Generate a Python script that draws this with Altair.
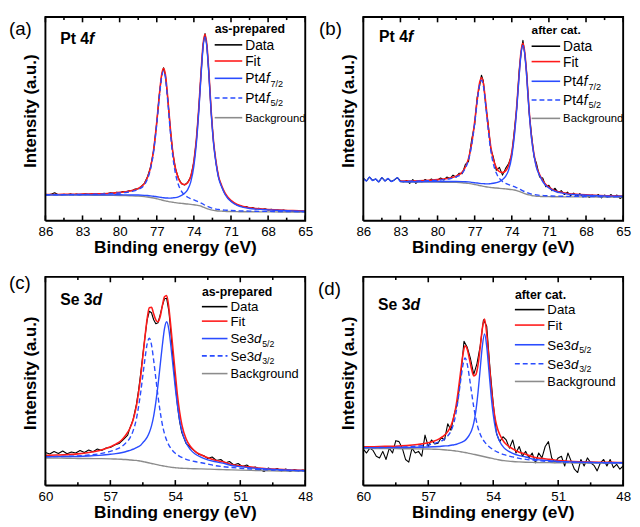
import altair as alt
import pandas as pd

FONT = "Liberation Sans"
BLACK = "#000000"
RED = "#ff1a1a"
BLUE = "#2a4cff"
GRAY = "#8c8c8c"

# ---------------- Pt 4f : shared energy grid of the fitted curves ----------------
pt_grid = [86, 85, 84, 83, 82, 81, 80, 79.5, 79, 78.5, 78, 77.75, 77.5, 77.25, 77,
           76.8, 76.6, 76.45, 76.3, 76.1, 75.9, 75.7, 75.5, 75.25, 75, 74.75, 74.5,
           74.25, 74, 73.8, 73.6, 73.4, 73.25, 73.1, 72.95, 72.8, 72.6, 72.4, 72.2,
           72, 71.75, 71.5, 71.25, 71, 70.5, 70, 69.5, 69, 68, 67, 66, 65]

# (a) Pt 4f as-prepared
a_bg = [26.5, 26.5, 26.5, 26.5, 26.4, 26.3, 26.2, 26.0, 25.8, 25.5, 25.0, 24.6, 24.1,
        23.5, 22.8, 22.2, 21.5, 21.0, 20.5, 20.0, 19.5, 19.1, 18.7, 18.3, 18.0, 17.6,
        17.3, 17.0, 16.6, 16.2, 15.7, 15.0, 14.2, 13.4, 12.6, 12.0, 11.3, 10.8, 10.4,
        10.1, 9.9, 9.7, 9.6, 9.5, 9.4, 9.3, 9.3, 9.2, 9.2, 9.1, 9.1, 9.0]
a_c1 = [26.7, 26.8, 26.8, 26.9, 26.8, 26.8, 26.9, 26.8, 26.7, 26.6, 26.3, 26.1, 25.8,
        25.4, 24.9, 24.5, 24.1, 23.8, 23.6, 23.5, 23.4, 23.7, 24.0, 24.8, 26.2, 28.4,
        32.3, 40.2, 56.5, 79.7, 113.7, 154.5, 180.4, 190.4, 179.6, 154.0, 111.3, 78.8,
        58.4, 44.1, 34.9, 27.7, 23.1, 20.0, 15.9, 13.9, 12.7, 12.0, 11.2, 10.6, 10.2, 9.8]
a_c2 = [26.9, 26.9, 27.1, 27.2, 27.4, 27.8, 28.7, 29.3, 30.4, 32.4, 37.2, 43.3, 53.6,
        71.8, 100.0, 126.9, 149.1, 155.0, 148.1, 122.0, 91.5, 66.1, 49.7, 37.3, 30.5,
        26.6, 24.3, 22.8, 21.6, 20.5, 19.4, 18.3, 17.2, 16.1, 15.1, 14.3, 13.4, 12.7,
        12.1, 11.7, 11.3, 11.0, 10.8, 10.6, 10.3, 10.1, 10.0, 9.8, 9.7, 9.5, 9.4, 9.2]
a_fit = [27.1, 27.2, 27.4, 27.6, 27.8, 28.3, 29.4, 30.1, 31.3, 33.5, 38.5, 44.8, 55.3,
         73.7, 102.1, 129.2, 151.7, 157.8, 151.2, 125.5, 95.4, 70.7, 55.0, 43.8, 38.7,
         37.4, 39.3, 46.0, 61.5, 84.0, 117.4, 157.8, 183.4, 193.1, 182.1, 156.3, 113.4,
         80.7, 60.1, 45.7, 36.3, 29.0, 24.3, 21.1, 16.8, 14.7, 13.4, 12.6, 11.7, 11.0,
         10.5, 10.0]

pt_data_x = [86, 85.75, 85.5, 85.25, 85, 84.75, 84.5, 84.25, 84, 83.75, 83.5, 83.25,
             83, 82.75, 82.5, 82.25, 82, 81.75, 81.5, 81.25, 81, 80.75, 80.5, 80.25,
             80, 79.75, 79.5, 79.25, 79, 78.75, 78.5, 78.25,
             78, 77.75, 77.5, 77.25, 77, 76.8, 76.6, 76.45, 76.3, 76.1, 75.9, 75.7,
             75.5, 75.25, 75, 74.75, 74.5, 74.25, 74, 73.8, 73.6, 73.4, 73.25, 73.1,
             72.95, 72.8, 72.6, 72.4, 72.2, 72, 71.75, 71.5, 71.25, 71,
             70.75, 70.5, 70.25, 70, 69.75, 69.5, 69.25, 69, 68.75, 68.5, 68.25, 68,
             67.75, 67.5, 67.25, 67, 66.75, 66.5, 66.25, 66, 65.75, 65.5, 65.25, 65]
a_data = [27.5, 26.8, 27.6, 29.0, 27.2, 26.6, 27.4, 26.9, 27.8, 27.0, 27.6, 26.8, 27.5,
          28.0, 27.2, 27.9, 27.3, 28.2, 27.6, 28.5, 28.0, 29.0, 28.4, 29.4, 29.0, 30.2,
          29.8, 31.0, 31.2, 32.8, 33.0, 35.5,
          38.8, 45.5, 55.8, 73.0, 101.5, 129.8, 151, 158.5, 150.5, 125, 94.8, 70.2, 54.5,
          44.3, 38.2, 37.0, 39.8, 45.5, 61, 83.2, 116.5, 157, 183, 193.8, 181.5, 155.5,
          112.2, 79.5, 58.8, 44.6, 35.3, 28.2, 23.6, 20.4,
          18.2, 16.2, 15.6, 14.2, 14.8, 12.8, 13.6, 12.2, 13.0, 11.6, 12.4, 11.2, 11.8,
          10.6, 11.2, 10.4, 11.0, 9.8, 10.4, 9.6, 10.2, 9.2, 9.8, 9.0]

# (b) Pt 4f after catalysis (fit region 83 -> 65 eV)
b_grid = pt_grid[3:]
b_bg = [40.0, 39.9, 39.9, 39.8, 39.7, 39.6, 39.5, 39.2, 38.9, 38.5, 38.0, 37.4, 36.9,
        36.3, 35.9, 35.5, 35.0, 34.6, 34.3, 34.0, 33.7, 33.4, 33.1, 32.8, 32.5, 32.1,
        31.7, 31.1, 30.3, 29.5, 28.7, 28.0, 27.3, 26.6, 26.0, 25.6, 25.3, 25.1, 24.9,
        24.8, 24.8, 24.7, 24.7, 24.6, 24.6, 24.6, 24.5, 24.5, 24.5]
b_c1_pre_x = [86, 85.75, 85.5, 85.25, 85, 84.75, 84.5, 84.25, 84, 83.75, 83.5, 83.25]
b_c1_pre = [44, 41, 45, 41.5, 43, 40, 44.5, 41, 43.5, 40.5, 42, 44.5]
b_c1 = [40.3, 40.2, 40.3, 40.4, 40.4, 40.4, 40.4, 40.3, 40.2, 40.0, 39.6, 39.2, 38.9,
        38.5, 38.3, 38.2, 38.0, 38.0, 38.3, 38.6, 39.3, 40.4, 42.4, 45.7, 52.4, 66.4,
        86.2, 115.3, 150.1, 172.3, 180.7, 171.5, 149.3, 112.5, 84.4, 66.8, 54.5, 46.6,
        40.4, 36.4, 33.8, 30.3, 28.7, 27.5, 27.0, 26.3, 25.8, 25.4, 25.2]
b_c2 = [40.6, 40.7, 41.1, 41.8, 42.4, 43.3, 45.1, 49.1, 54.1, 62.5, 77.3, 100.2, 122.0,
        140.0, 144.9, 139.2, 117.9, 93.1, 72.5, 59.2, 49.1, 43.6, 40.4, 38.5, 37.2, 36.2,
        35.2, 34.1, 33.0, 31.9, 30.9, 30.0, 29.2, 28.3, 27.5, 27.0, 26.6, 26.2, 26.0,
        25.8, 25.7, 25.4, 25.3, 25.1, 25.1, 25.0, 24.8, 24.7, 24.7]
b_fit = [40.9, 41.0, 41.5, 42.4, 43.1, 44.1, 46.0, 50.2, 55.4, 64.0, 78.9, 102.0, 124.0,
         142.2, 147.3, 141.9, 120.9, 96.5, 76.5, 63.8, 54.7, 50.6, 49.7, 51.4, 57.1, 70.5,
         89.7, 118.3, 152.8, 174.7, 182.9, 173.5, 151.2, 114.2, 85.9, 68.2, 55.8, 47.7,
         41.5, 37.4, 34.7, 31.0, 29.3, 28.0, 27.5, 26.7, 26.1, 25.6, 25.4]
b_data = [44, 41, 45, 41.5, 43, 40, 44.5, 41, 43.5, 40.5, 42, 44.5, 41, 40, 41.5, 38.5,
          42.5, 38.5, 41.5, 40, 42.5, 40.5, 43, 41, 42, 44, 42, 45, 43.5, 47, 45, 49,
          48.5, 58, 61, 83, 99, 127, 139, 150, 144, 118, 99, 74, 66, 52, 55, 47, 54, 59,
          68, 92, 116, 155, 173, 186, 172, 153, 112, 88, 66, 59, 45, 44, 35, 36.5,
          31, 33.5, 29, 31, 27, 29.5, 26, 28.5, 25, 28, 24.5, 27, 24, 26.5, 25, 27, 23.5,
          26.5, 24, 27, 24.5, 26.5, 23, 25]

# ---------------- Se 3d : shared energy grid of the fitted curves ----------------
se_grid = [60, 59.5, 59, 58.5, 58, 57.5, 57, 56.75, 56.5, 56.3, 56.1, 55.95, 55.8, 55.7,
           55.6, 55.5, 55.4, 55.3, 55.2, 55.1, 55.0, 54.9, 54.8, 54.7, 54.6, 54.5, 54.4,
           54.3, 54.2, 54.1, 54.0, 53.9, 53.8, 53.7, 53.5, 53.3, 53.1, 52.8, 52.5, 52.2,
           51.8, 51.4, 51, 50.5, 50, 49.5, 49, 48.5, 48]

# (c) Se 3d as-prepared
c_bg = [27.5, 27.4, 27.3, 27.1, 27.0, 26.9, 26.7, 26.5, 26.3, 26.0, 25.6, 25.3, 25.1,
        24.8, 24.4, 24.0, 23.5, 23.0, 22.5, 22.0, 21.6, 21.1, 20.7, 20.2, 19.8, 19.4,
        19.0, 18.6, 18.3, 18.0, 17.8, 17.6, 17.4, 17.3, 17.1, 16.9, 16.8, 16.6, 16.4,
        16.2, 15.9, 15.6, 15.4, 15.1, 14.9, 14.7, 14.5, 14.4, 14.3]
c_c1 = [28.8, 28.9, 29.0, 29.1, 29.5, 30.2, 31.3, 31.9, 32.8, 33.8, 35.2, 36.3, 37.9,
        39.0, 40.4, 42.9, 45.3, 48.4, 53.0, 59.7, 69.5, 83.5, 100.5, 120.3, 140.2, 157.2,
        164.0, 156.4, 138.7, 118.1, 97.6, 80.0, 65.3, 55.0, 42.5, 35.9, 31.8, 28.2, 25.7,
        24.0, 22.4, 20.0, 18.9, 17.7, 16.8, 16.1, 15.5, 15.2, 14.95]
c_c2 = [28.9, 29.0, 29.2, 29.7, 30.5, 31.8, 34.2, 36.0, 38.6, 42.3, 47.5, 54.7, 66.4,
        78.6, 93.2, 110.3, 127.3, 141.8, 147.5, 140.8, 125.4, 107.4, 89.5, 74.0, 61.1,
        51.9, 45.3, 40.5, 37.1, 34.3, 32.2, 30.5, 29.2, 28.1, 26.2, 25.0, 24.0, 22.8,
        21.5, 20.0, 18.9, 18.0, 17.3, 16.5, 15.9, 15.5, 15.1, 14.9, 14.7]
c_fit = [30.2, 30.5, 30.9, 31.7, 33.0, 35.1, 38.8, 41.4, 45.1, 50.1, 57.1, 65.7, 79.2,
         92.8, 109.2, 129.2, 149.1, 167.2, 178.0, 178.5, 172.0, 166.0, 164.0, 169.0,
         180.0, 189.0, 190.3, 178.3, 157.5, 134.4, 112.0, 90.0, 73.5, 61.0, 46.5, 39.0,
         34.5, 30.5, 27.7, 25.5, 23.8, 21.0, 19.8, 18.4, 17.3, 16.5, 15.9, 15.5, 15.2]
c_data_x = [60, 59.8, 59.6, 59.4, 59.2, 59, 58.8, 58.6, 58.4, 58.2, 58, 57.8, 57.6, 57.4,
            57.2, 57, 56.8, 56.6, 56.4, 56.2,
            56.1, 55.95, 55.8, 55.7, 55.6, 55.5, 55.4, 55.3, 55.2, 55.1, 55.0, 54.9,
            54.8, 54.7, 54.6, 54.5, 54.4, 54.3, 54.2, 54.1, 54.0, 53.9, 53.8, 53.7, 53.5,
            53.3, 53.1,
            52.9, 52.7, 52.5, 52.3, 52.1, 51.9, 51.7, 51.5, 51.3, 51.1, 50.9, 50.7, 50.5,
            50.3, 50.1, 49.9, 49.7, 49.5, 49.3, 49.1, 48.9, 48.7, 48.5, 48.3, 48.1, 48.0]
c_data = [33, 31.5, 34, 32, 34.5, 31.8, 33.5, 32.5, 35, 33, 35.5, 33.8, 36.5, 35, 37.5,
          38, 40.5, 42, 46, 50.5,
          57.5, 66, 81, 95, 112, 131, 149, 166, 174.5, 173, 166, 162, 163, 171, 180, 187,
          187.5, 175, 152, 126, 102, 80, 64, 53, 42, 38, 34.5,
          31, 30, 27, 28.5, 25, 26, 22.5, 24, 20.5, 22, 19, 20.5, 17.5, 18.5, 16, 14,
          17.5, 15, 17, 14.5, 16.5, 14, 16, 14.5, 15.5, 14]

# (d) Se 3d after catalysis
d_bg = [38.0, 38.0, 37.9, 37.8, 37.7, 37.6, 37.4, 37.2, 37.0, 36.7, 36.3, 36.0, 35.6,
        35.3, 35.0, 34.6, 34.2, 33.8, 33.4, 33.0, 32.5, 32.0, 31.5, 31.0, 30.5, 30.0,
        29.5, 29.0, 28.5, 28.0, 27.5, 27.0, 26.6, 26.2, 25.5, 25.0, 24.6, 24.2, 23.9,
        23.7, 23.5, 23.4, 23.3, 23.2, 23.1, 23.1, 23.0, 23.0, 23.0]
d_c1 = [38.8, 38.9, 38.9, 38.9, 39.0, 39.2, 39.5, 39.7, 40.0, 40.5, 40.7, 41.3, 41.8,
        42.3, 43.2, 43.9, 45.0, 46.3, 48.7, 52.0, 56.4, 63.9, 76.8, 95.9, 120.0, 143.4,
        155.5, 142.4, 118.0, 92.9, 72.8, 58.9, 50.5, 45.2, 38.6, 35.2, 32.9, 30.6, 29.2,
        27.2, 26.1, 25.5, 24.7, 24.2, 23.8, 23.6, 23.4, 23.35, 23.3]
d_c2 = [38.8, 38.9, 39.1, 39.2, 39.6, 40.4, 41.7, 42.9, 44.8, 46.8, 50.9, 56.0, 65.9,
        77.0, 91.7, 108.3, 123.4, 130.8, 124.4, 111.0, 95.5, 80.5, 68.5, 59.0, 52.5,
        48.0, 44.7, 42.0, 40.0, 38.2, 36.7, 35.4, 34.3, 33.3, 31.6, 30.3, 29.3, 27.8,
        26.8, 26.0, 25.2, 24.7, 24.3, 24.0, 23.7, 23.55, 23.4, 23.35, 23.3]
d_fit = [39.6, 39.8, 40.1, 40.3, 40.9, 42.0, 43.8, 45.4, 47.8, 50.6, 55.3, 61.3, 72.1,
         84.0, 99.9, 117.6, 134.2, 143.3, 139.7, 130.0, 119.4, 112.4, 113.8, 123.9,
         142.0, 161.4, 170.7, 155.4, 129.5, 103.1, 82.0, 67.3, 58.2, 52.3, 44.7, 40.5,
         37.6, 34.2, 32.1, 29.5, 27.8, 26.8, 25.7, 24.9, 24.4, 24.05, 23.8, 23.7, 23.6]
d_data_x = [60.0, 59.85, 59.7, 59.55, 59.4, 59.25, 59.1, 58.95, 58.8, 58.65, 58.5, 58.35,
            58.2, 58.05, 57.9, 57.75, 57.6, 57.45, 57.3, 57.15, 57.0, 56.85, 56.7, 56.55,
            56.4, 56.25, 56.1, 55.95, 55.8, 55.65, 55.5, 55.35, 55.2, 55.05, 54.9, 54.75,
            54.6, 54.45, 54.3, 54.15, 54.0, 53.85, 53.7, 53.55, 53.4, 53.25, 53.1, 52.95,
            52.8, 52.65, 52.5, 52.35, 52.2, 52.05, 51.9, 51.75, 51.6, 51.45, 51.3, 51.15,
            51.0, 50.85, 50.7, 50.55, 50.4, 50.25, 50.1, 49.95, 49.8, 49.65, 49.5, 49.35,
            49.2, 49.05, 48.9, 48.75, 48.6, 48.45, 48.3, 48.15, 48.0]
d_data = [37.3, 33.3, 38.3, 36, 30, 28.3, 35, 26.7, 38.3, 33.3, 46, 45, 38.3, 26.7, 24,
          38.3, 33.3, 35, 30, 51.7, 40, 46.7, 42.7, 43.3, 49.3, 46.7, 63.3, 56.7, 73.3,
          85, 112, 148, 141.7, 130, 114, 125, 143.3, 170, 163.3, 120, 84, 53.3, 45, 50,
          46.7, 38.3, 46.7, 33.3, 40, 30, 35, 28.3, 33.3, 23.3, 33.3, 28.3, 40, 45, 28.3,
          23.3, 28.3, 30, 20, 33.3, 25, 16.7, 13.3, 26.7, 20, 28.3, 23.3, 20.7, 15, 23.3,
          26.7, 20, 26.7, 18.3, 21.7, 16.7, 20]

pt_major = [86, 83, 80, 77, 74, 71, 68, 65]
pt_minor = [84.5, 81.5, 78.5, 75.5, 72.5, 69.5, 66.5]
se_major = [60, 57, 54, 51, 48]
se_minor = [58.5, 55.5, 52.5, 49.5]

W = 264
H_TOP = 207
H_BOT = 212


def one():
    return pd.DataFrame({"k": [0]})


def text(s, x, y, size, weight="normal", style="normal", color=BLACK, align="left"):
    return alt.Chart(one()).mark_text(
        text=s, font=FONT, fontSize=size, fontWeight=weight, fontStyle=style,
        align=align, baseline="alphabetic", color=color
    ).encode(x=alt.value(x), y=alt.value(y))


def seg(x1, x2, y1, y2, color=BLACK, dash=None, width=1.0):
    kw = dict(color=color, strokeWidth=width)
    if dash:
        kw["strokeDash"] = dash
    return alt.Chart(one()).mark_rule(**kw).encode(
        x=alt.value(x1), x2=alt.value(x2), y=alt.value(y1), y2=alt.value(y2))


def panel(H, xdom, ymax, major, minor, series, extra):
    xs = alt.Scale(domain=xdom, reverse=True, nice=False, zero=False)
    ys = alt.Scale(domain=[0, ymax], nice=False, zero=False)
    ax_x = alt.Axis(values=major, format="d", title=None,
                    ticks=False, tickSize=0, domain=False, grid=False,
                    labelFont=FONT, labelFontSize=13.5, labelColor=BLACK,
                    labelBaseline="alphabetic", labelPadding=15.5, labelFlush=False)
    ax_y = alt.Axis(title="Intensity (a.u.)", labels=False, ticks=False, tickSize=0,
                    domain=False, grid=False, titleFont=FONT, titleFontSize=17,
                    titleFontWeight="bold", titleColor=BLACK,
                    titleBaseline="alphabetic", titleX=-10, titleY=H * 0.46)
    X = lambda f: alt.X(f, scale=xs, axis=ax_x)
    Y = lambda f: alt.Y(f, scale=ys, axis=ax_y)
    layers = []
    for xv, yv, color, sw, dash, interp in series:
        df = pd.DataFrame({"x": xv, "y": yv})
        kw = dict(color=color, strokeWidth=sw, interpolate=interp, strokeJoin="round")
        if dash:
            kw["strokeDash"] = dash
        layers.append(alt.Chart(df).mark_line(**kw).encode(x=X("x:Q"), y=Y("y:Q")))
    # plot frame as a closed path through the domain corners
    lo, hi = xdom[0], xdom[1]
    frame_df = pd.DataFrame({"x": [hi, lo, lo, hi, hi], "y": [0, 0, ymax, ymax, 0],
                             "o": [0, 1, 2, 3, 4]})
    frame = alt.Chart(frame_df).mark_line(color=BLACK, strokeWidth=1.9,
                                          strokeJoin="miter").encode(
        x=X("x:Q"), y=Y("y:Q"), order="o:Q")
    # inside ticks, top and bottom, each a short path
    rows = []
    k = 0
    for vals, f in ((major, 0.026), (minor, 0.015)):
        for v in vals:
            rows += [(k, v, 0), (k, v, ymax * f)]
            k += 1
            rows += [(k, v, ymax), (k, v, ymax * (1 - f))]
            k += 1
    tdf = pd.DataFrame(rows, columns=["id", "x", "y"])
    ticks = alt.Chart(tdf).mark_line(color=BLACK, strokeWidth=1.6).encode(
        x=X("x:Q"), y=Y("y:Q"), detail="id:N")
    xtitle = text("Binding energy (eV)", W / 2, H + 33, 17.5, weight="bold",
                  align="center")
    return alt.layer(*layers, xtitle, *extra, ticks, frame).properties(width=W, height=H)


def legend(x0, x1, xl, ty, title, rows, fs, bgfs, tfs, base, base_w, it, it_w, subs):
    out = [text(title, x0, ty, tfs, weight="bold")]
    styles = [(BLACK, None), (RED, None), (BLUE, None), (BLUE, [5, 3]), (GRAY, None)]
    for (c, d), y in zip(styles, rows):
        out.append(seg(x0, x1, y, y, c, d, 1.6))
    out.append(text("Data", xl, rows[0] + fs * 0.36, fs))
    out.append(text("Fit", xl, rows[1] + fs * 0.36, fs))
    for i, sub in zip((2, 3), subs):
        y = rows[i] + fs * 0.36
        out.append(text(base, xl, y, fs))
        out.append(text(it, xl + base_w * fs, y, fs, style="italic"))
        out.append(text(sub, xl + (base_w + it_w) * fs + 0.8, y + 3.5, fs * 0.66))
    out.append(text("Background", xl, rows[4] + bgfs * 0.36, bgfs))
    return out


def series_set(gx, fit, bg, c1x, c1, c2x, c2, dx, dy):
    return [
        (dx, dy, BLACK, 1.1, None, "linear"),
        (gx, fit, RED, 1.6, None, "monotone"),
        (gx, bg, GRAY, 1.4, None, "monotone"),
        (c1x, c1, BLUE, 1.4, None, "monotone"),
        (c2x, c2, BLUE, 1.4, [5, 3], "monotone"),
    ]


pa = panel(
    H_TOP, [65, 86], 211, pt_major, pt_minor,
    series_set(pt_grid, a_fit, a_bg, pt_grid, a_c1, pt_grid, a_c2, pt_data_x, a_data),
    [text("(a)", -37, 18, 19),
     text("Pt 4", 15, 27, 16, weight="bold"),
     text("f", 15 + 1.834 * 16, 27, 16, weight="bold", style="italic")]
    + legend(172, 200, 203, 16, "as-prepared", [28.3, 44.7, 62.3, 82.3, 102.3],
             14, 11.5, 12.5, "Pt4", 1.501, "f", 0.278, ["7/2", "5/2"]))

pb = panel(
    H_TOP, [65, 86], 210, pt_major, pt_minor,
    series_set(b_grid, b_fit, b_bg, b_c1_pre_x + b_grid, b_c1_pre + b_c1,
               b_grid, b_c2, pt_data_x, b_data),
    [text("(b)", -45, 18, 19),
     text("Pt 4", 16, 25, 16, weight="bold"),
     text("f", 16 + 1.834 * 16, 25, 16, weight="bold", style="italic")]
    + legend(171, 200, 203, 17, "after cat.", [29.7, 45.3, 65.3, 84.3, 103],
             14, 11.5, 12, "Pt4", 1.501, "f", 0.278, ["7/2", "5/2"]))

pc = panel(
    H_BOT, [48, 60], 209, se_major, se_minor,
    series_set(se_grid, c_fit, c_bg, se_grid, c_c1, se_grid, c_c2, c_data_x, c_data),
    [text("(c)", -37, 12, 19),
     text("Se 3", 15, 28.3, 16, weight="bold"),
     text("d", 15 + 2.057 * 16, 28.3, 16, weight="bold", style="italic")]
    + legend(159, 185, 188, 19, "as-prepared", [30.3, 45, 62.7, 80.3, 98.3],
             13.5, 13, 12.5, "Se3", 1.779, "d", 0.556, ["5/2", "3/2"]))

pd_ = panel(
    H_BOT, [48, 60], 214, se_major, se_minor,
    series_set(se_grid, d_fit, d_bg, se_grid, d_c1, se_grid, d_c2, d_data_x, d_data),
    [text("(d)", -46, 18, 19),
     text("Se 3", 15, 33.3, 16, weight="bold"),
     text("d", 15 + 2.057 * 16, 33.3, 16, weight="bold", style="italic")]
    + legend(154, 184, 187, 23, "after cat.", [33.3, 49, 69, 88.3, 106.3],
             13.5, 13, 12.5, "Se3", 1.779, "d", 0.556, ["5/2", "3/2"]))

chart = alt.concat(
    pa, pb, pc, pd_, columns=2, spacing={"row": 57, "column": 59}, bounds="flush"
).properties(padding=0).configure_view(stroke=BLACK, strokeWidth=1.5).configure(font=FONT)

chart.save("out.html", embed_options={"renderer": "svg", "actions": False})
